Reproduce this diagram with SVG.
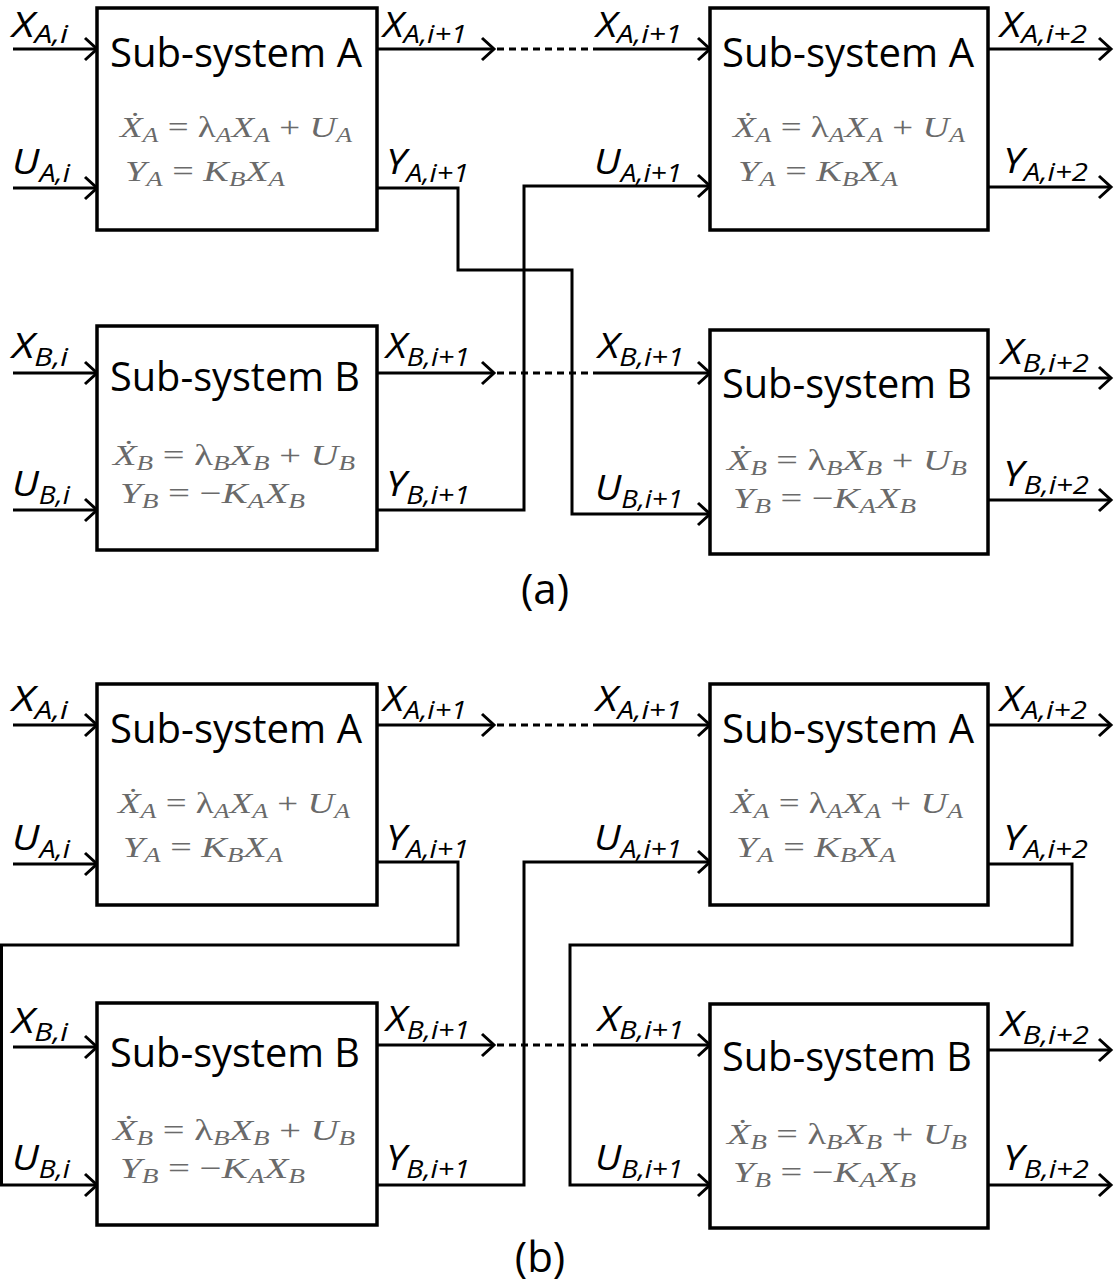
<svg xmlns="http://www.w3.org/2000/svg" width="1116" height="1285" viewBox="0 0 1116 1285">
<style>
.box{fill:#fff;stroke:#000;stroke-width:3.5}
.ln{fill:none;stroke:#000;stroke-width:3}
.dash{fill:none;stroke:#000;stroke-width:3;stroke-dasharray:7 5}
.title{font-family:"Open Sans","Liberation Sans",sans-serif;font-size:40px;fill:#000}
.lab{font-family:"Open Sans","Liberation Sans",sans-serif;font-style:italic;font-size:35px;fill:#000}
.lab.top{font-size:34px}
.sub{font-size:25px}
.eq{font-family:"Liberation Serif","DejaVu Serif",serif;font-style:italic;font-size:30px;fill:#6a6a6a}
.es{font-size:21px}
.up{font-style:normal}
.cap{font-family:"Open Sans","Liberation Sans",sans-serif;font-size:42px;fill:#000}
</style>
<defs>
<marker id="arr" viewBox="-15 -14 18 28" markerWidth="18" markerHeight="28" refX="0" refY="0" orient="auto" markerUnits="userSpaceOnUse">
<path d="M-12,-11 L0,0 L-12,11" fill="none" stroke="#000" stroke-width="3"/>
</marker>
</defs>

<g id="connectors">
<!-- panel (a) -->
<line class="ln" x1="13" y1="49" x2="97" y2="49" marker-end="url(#arr)"/>
<line class="ln" x1="13" y1="188" x2="97" y2="188" marker-end="url(#arr)"/>
<line class="ln" x1="377" y1="49" x2="494" y2="49" marker-end="url(#arr)"/>
<line class="dash" x1="497" y1="49" x2="600" y2="49"/>
<line class="ln" x1="600" y1="49" x2="710" y2="49" marker-end="url(#arr)"/>
<line class="ln" x1="988" y1="49" x2="1111" y2="49" marker-end="url(#arr)"/>
<line class="ln" x1="988" y1="187" x2="1111" y2="187" marker-end="url(#arr)"/>
<polyline class="ln" points="377,188 458,188 458,270 572,270 572,514 710,514" marker-end="url(#arr)"/>
<polyline class="ln" points="377,510 524,510 524,186 710,186" marker-end="url(#arr)"/>
<line class="ln" x1="13" y1="373" x2="97" y2="373" marker-end="url(#arr)"/>
<line class="ln" x1="13" y1="510" x2="97" y2="510" marker-end="url(#arr)"/>
<line class="ln" x1="377" y1="373" x2="494" y2="373" marker-end="url(#arr)"/>
<line class="dash" x1="497" y1="373" x2="600" y2="373"/>
<line class="ln" x1="600" y1="373" x2="710" y2="373" marker-end="url(#arr)"/>
<line class="ln" x1="988" y1="378" x2="1111" y2="378" marker-end="url(#arr)"/>
<line class="ln" x1="988" y1="500" x2="1111" y2="500" marker-end="url(#arr)"/>
<!-- panel (b) -->
<line class="ln" x1="13" y1="725" x2="97" y2="725" marker-end="url(#arr)"/>
<line class="ln" x1="13" y1="864" x2="97" y2="864" marker-end="url(#arr)"/>
<line class="ln" x1="377" y1="725" x2="494" y2="725" marker-end="url(#arr)"/>
<line class="dash" x1="497" y1="725" x2="600" y2="725"/>
<line class="ln" x1="600" y1="725" x2="710" y2="725" marker-end="url(#arr)"/>
<line class="ln" x1="988" y1="725" x2="1111" y2="725" marker-end="url(#arr)"/>
<polyline class="ln" points="377,862 458,862 458,945 1.5,945 1.5,1185 97,1185" marker-end="url(#arr)"/>
<polyline class="ln" points="377,1185 524,1185 524,862 710,862" marker-end="url(#arr)"/>
<polyline class="ln" points="988,864 1072,864 1072,945 570,945 570,1185 710,1185" marker-end="url(#arr)"/>
<line class="ln" x1="13" y1="1047" x2="97" y2="1047" marker-end="url(#arr)"/>
<line class="ln" x1="377" y1="1045" x2="494" y2="1045" marker-end="url(#arr)"/>
<line class="dash" x1="497" y1="1045" x2="600" y2="1045"/>
<line class="ln" x1="600" y1="1045" x2="710" y2="1045" marker-end="url(#arr)"/>
<line class="ln" x1="988" y1="1050" x2="1111" y2="1050" marker-end="url(#arr)"/>
<line class="ln" x1="988" y1="1185" x2="1111" y2="1185" marker-end="url(#arr)"/>
</g>

<!-- panel (a) nodes -->
<g id="a-subA1">
<rect class="box" x="97" y="8" width="280" height="222"/>
<text class="title" x="110" y="67" textLength="252" lengthAdjust="spacingAndGlyphs">Sub-system A</text>
<text class="eq" x="120" y="137" textLength="232" lengthAdjust="spacingAndGlyphs">Ẋ<tspan class="es" dy="5">A</tspan><tspan class="up" dy="-5"> = λ</tspan><tspan class="es" dy="5">A</tspan><tspan dy="-5">X</tspan><tspan class="es" dy="5">A</tspan><tspan class="up" dy="-5"> + </tspan><tspan>U</tspan><tspan class="es" dy="5">A</tspan></text>
<text class="eq" x="125" y="181" textLength="160" lengthAdjust="spacingAndGlyphs">Y<tspan class="es" dy="5">A</tspan><tspan class="up" dy="-5"> = </tspan><tspan>K</tspan><tspan class="es" dy="5">B</tspan><tspan dy="-5">X</tspan><tspan class="es" dy="5">A</tspan></text>
</g>
<g id="a-subA2">
<rect class="box" x="710" y="8" width="278" height="222"/>
<text class="title" x="722" y="67" textLength="252" lengthAdjust="spacingAndGlyphs">Sub-system A</text>
<text class="eq" x="733" y="137" textLength="232" lengthAdjust="spacingAndGlyphs">Ẋ<tspan class="es" dy="5">A</tspan><tspan class="up" dy="-5"> = λ</tspan><tspan class="es" dy="5">A</tspan><tspan dy="-5">X</tspan><tspan class="es" dy="5">A</tspan><tspan class="up" dy="-5"> + </tspan><tspan>U</tspan><tspan class="es" dy="5">A</tspan></text>
<text class="eq" x="738" y="181" textLength="160" lengthAdjust="spacingAndGlyphs">Y<tspan class="es" dy="5">A</tspan><tspan class="up" dy="-5"> = </tspan><tspan>K</tspan><tspan class="es" dy="5">B</tspan><tspan dy="-5">X</tspan><tspan class="es" dy="5">A</tspan></text>
</g>
<g id="a-subB1">
<rect class="box" x="97" y="326" width="280" height="224"/>
<text class="title" x="110" y="391" textLength="250" lengthAdjust="spacingAndGlyphs">Sub-system B</text>
<text class="eq" x="113" y="465" textLength="242" lengthAdjust="spacingAndGlyphs">Ẋ<tspan class="es" dy="5">B</tspan><tspan class="up" dy="-5"> = λ</tspan><tspan class="es" dy="5">B</tspan><tspan dy="-5">X</tspan><tspan class="es" dy="5">B</tspan><tspan class="up" dy="-5"> + </tspan><tspan>U</tspan><tspan class="es" dy="5">B</tspan></text>
<text class="eq" x="120" y="503" textLength="185" lengthAdjust="spacingAndGlyphs">Y<tspan class="es" dy="5">B</tspan><tspan class="up" dy="-5"> = −</tspan><tspan>K</tspan><tspan class="es" dy="5">A</tspan><tspan dy="-5">X</tspan><tspan class="es" dy="5">B</tspan></text>
</g>
<g id="a-subB2">
<rect class="box" x="710" y="330" width="278" height="224"/>
<text class="title" x="722" y="398" textLength="250" lengthAdjust="spacingAndGlyphs">Sub-system B</text>
<text class="eq" x="727" y="470" textLength="240" lengthAdjust="spacingAndGlyphs">Ẋ<tspan class="es" dy="5">B</tspan><tspan class="up" dy="-5"> = λ</tspan><tspan class="es" dy="5">B</tspan><tspan dy="-5">X</tspan><tspan class="es" dy="5">B</tspan><tspan class="up" dy="-5"> + </tspan><tspan>U</tspan><tspan class="es" dy="5">B</tspan></text>
<text class="eq" x="733" y="508" textLength="183" lengthAdjust="spacingAndGlyphs">Y<tspan class="es" dy="5">B</tspan><tspan class="up" dy="-5"> = −</tspan><tspan>K</tspan><tspan class="es" dy="5">A</tspan><tspan dy="-5">X</tspan><tspan class="es" dy="5">B</tspan></text>
</g>

<!-- panel (b) nodes -->
<g id="b-subA1">
<rect class="box" x="97" y="684" width="280" height="221"/>
<text class="title" x="110" y="743" textLength="252" lengthAdjust="spacingAndGlyphs">Sub-system A</text>
<text class="eq" x="118" y="813" textLength="232" lengthAdjust="spacingAndGlyphs">Ẋ<tspan class="es" dy="5">A</tspan><tspan class="up" dy="-5"> = λ</tspan><tspan class="es" dy="5">A</tspan><tspan dy="-5">X</tspan><tspan class="es" dy="5">A</tspan><tspan class="up" dy="-5"> + </tspan><tspan>U</tspan><tspan class="es" dy="5">A</tspan></text>
<text class="eq" x="123" y="857" textLength="160" lengthAdjust="spacingAndGlyphs">Y<tspan class="es" dy="5">A</tspan><tspan class="up" dy="-5"> = </tspan><tspan>K</tspan><tspan class="es" dy="5">B</tspan><tspan dy="-5">X</tspan><tspan class="es" dy="5">A</tspan></text>
</g>
<g id="b-subA2">
<rect class="box" x="710" y="684" width="278" height="221"/>
<text class="title" x="722" y="743" textLength="252" lengthAdjust="spacingAndGlyphs">Sub-system A</text>
<text class="eq" x="731" y="813" textLength="232" lengthAdjust="spacingAndGlyphs">Ẋ<tspan class="es" dy="5">A</tspan><tspan class="up" dy="-5"> = λ</tspan><tspan class="es" dy="5">A</tspan><tspan dy="-5">X</tspan><tspan class="es" dy="5">A</tspan><tspan class="up" dy="-5"> + </tspan><tspan>U</tspan><tspan class="es" dy="5">A</tspan></text>
<text class="eq" x="736" y="857" textLength="160" lengthAdjust="spacingAndGlyphs">Y<tspan class="es" dy="5">A</tspan><tspan class="up" dy="-5"> = </tspan><tspan>K</tspan><tspan class="es" dy="5">B</tspan><tspan dy="-5">X</tspan><tspan class="es" dy="5">A</tspan></text>
</g>
<g id="b-subB1">
<rect class="box" x="97" y="1003" width="280" height="222"/>
<text class="title" x="110" y="1067" textLength="250" lengthAdjust="spacingAndGlyphs">Sub-system B</text>
<text class="eq" x="113" y="1140" textLength="242" lengthAdjust="spacingAndGlyphs">Ẋ<tspan class="es" dy="5">B</tspan><tspan class="up" dy="-5"> = λ</tspan><tspan class="es" dy="5">B</tspan><tspan dy="-5">X</tspan><tspan class="es" dy="5">B</tspan><tspan class="up" dy="-5"> + </tspan><tspan>U</tspan><tspan class="es" dy="5">B</tspan></text>
<text class="eq" x="120" y="1178" textLength="185" lengthAdjust="spacingAndGlyphs">Y<tspan class="es" dy="5">B</tspan><tspan class="up" dy="-5"> = −</tspan><tspan>K</tspan><tspan class="es" dy="5">A</tspan><tspan dy="-5">X</tspan><tspan class="es" dy="5">B</tspan></text>
</g>
<g id="b-subB2">
<rect class="box" x="710" y="1004" width="278" height="224"/>
<text class="title" x="722" y="1071" textLength="250" lengthAdjust="spacingAndGlyphs">Sub-system B</text>
<text class="eq" x="727" y="1144" textLength="240" lengthAdjust="spacingAndGlyphs">Ẋ<tspan class="es" dy="5">B</tspan><tspan class="up" dy="-5"> = λ</tspan><tspan class="es" dy="5">B</tspan><tspan dy="-5">X</tspan><tspan class="es" dy="5">B</tspan><tspan class="up" dy="-5"> + </tspan><tspan>U</tspan><tspan class="es" dy="5">B</tspan></text>
<text class="eq" x="733" y="1182" textLength="183" lengthAdjust="spacingAndGlyphs">Y<tspan class="es" dy="5">B</tspan><tspan class="up" dy="-5"> = −</tspan><tspan>K</tspan><tspan class="es" dy="5">A</tspan><tspan dy="-5">X</tspan><tspan class="es" dy="5">B</tspan></text>
</g>

<!-- signal labels -->
<g id="labels">
<text class="lab top" x="12" y="37" textLength="56" lengthAdjust="spacingAndGlyphs">X<tspan class="sub" dy="6">A,i</tspan></text>
<text class="lab" x="12" y="174" textLength="58" lengthAdjust="spacingAndGlyphs">U<tspan class="sub" dy="8">A,i</tspan></text>
<text class="lab top" x="383" y="37" textLength="84" lengthAdjust="spacingAndGlyphs">X<tspan class="sub" dy="6">A,i+1</tspan></text>
<text class="lab" x="386" y="174" textLength="83" lengthAdjust="spacingAndGlyphs">Y<tspan class="sub" dy="8">A,i+1</tspan></text>
<text class="lab top" x="596" y="37" textLength="86" lengthAdjust="spacingAndGlyphs">X<tspan class="sub" dy="6">A,i+1</tspan></text>
<text class="lab" x="594" y="174" textLength="88" lengthAdjust="spacingAndGlyphs">U<tspan class="sub" dy="8">A,i+1</tspan></text>
<text class="lab top" x="1000" y="37" textLength="87" lengthAdjust="spacingAndGlyphs">X<tspan class="sub" dy="6">A,i+2</tspan></text>
<text class="lab" x="1003" y="173" textLength="85" lengthAdjust="spacingAndGlyphs">Y<tspan class="sub" dy="8">A,i+2</tspan></text>
<text class="lab" x="12" y="358" textLength="56" lengthAdjust="spacingAndGlyphs">X<tspan class="sub" dy="8">B,i</tspan></text>
<text class="lab" x="12" y="496" textLength="58" lengthAdjust="spacingAndGlyphs">U<tspan class="sub" dy="8">B,i</tspan></text>
<text class="lab" x="386" y="358" textLength="84" lengthAdjust="spacingAndGlyphs">X<tspan class="sub" dy="8">B,i+1</tspan></text>
<text class="lab" x="386" y="496" textLength="84" lengthAdjust="spacingAndGlyphs">Y<tspan class="sub" dy="8">B,i+1</tspan></text>
<text class="lab" x="598" y="358" textLength="86" lengthAdjust="spacingAndGlyphs">X<tspan class="sub" dy="8">B,i+1</tspan></text>
<text class="lab" x="595" y="500" textLength="88" lengthAdjust="spacingAndGlyphs">U<tspan class="sub" dy="8">B,i+1</tspan></text>
<text class="lab" x="1001" y="364" textLength="88" lengthAdjust="spacingAndGlyphs">X<tspan class="sub" dy="8">B,i+2</tspan></text>
<text class="lab" x="1003" y="486" textLength="86" lengthAdjust="spacingAndGlyphs">Y<tspan class="sub" dy="8">B,i+2</tspan></text>

<text class="lab" x="12" y="711" textLength="56" lengthAdjust="spacingAndGlyphs">X<tspan class="sub" dy="8">A,i</tspan></text>
<text class="lab" x="12" y="850" textLength="58" lengthAdjust="spacingAndGlyphs">U<tspan class="sub" dy="8">A,i</tspan></text>
<text class="lab" x="383" y="711" textLength="84" lengthAdjust="spacingAndGlyphs">X<tspan class="sub" dy="8">A,i+1</tspan></text>
<text class="lab" x="386" y="850" textLength="83" lengthAdjust="spacingAndGlyphs">Y<tspan class="sub" dy="8">A,i+1</tspan></text>
<text class="lab" x="596" y="711" textLength="86" lengthAdjust="spacingAndGlyphs">X<tspan class="sub" dy="8">A,i+1</tspan></text>
<text class="lab" x="594" y="850" textLength="88" lengthAdjust="spacingAndGlyphs">U<tspan class="sub" dy="8">A,i+1</tspan></text>
<text class="lab" x="1000" y="711" textLength="87" lengthAdjust="spacingAndGlyphs">X<tspan class="sub" dy="8">A,i+2</tspan></text>
<text class="lab" x="1003" y="850" textLength="85" lengthAdjust="spacingAndGlyphs">Y<tspan class="sub" dy="8">A,i+2</tspan></text>
<text class="lab" x="12" y="1033" textLength="56" lengthAdjust="spacingAndGlyphs">X<tspan class="sub" dy="8">B,i</tspan></text>
<text class="lab" x="12" y="1170" textLength="58" lengthAdjust="spacingAndGlyphs">U<tspan class="sub" dy="8">B,i</tspan></text>
<text class="lab" x="386" y="1031" textLength="84" lengthAdjust="spacingAndGlyphs">X<tspan class="sub" dy="8">B,i+1</tspan></text>
<text class="lab" x="386" y="1170" textLength="84" lengthAdjust="spacingAndGlyphs">Y<tspan class="sub" dy="8">B,i+1</tspan></text>
<text class="lab" x="598" y="1031" textLength="86" lengthAdjust="spacingAndGlyphs">X<tspan class="sub" dy="8">B,i+1</tspan></text>
<text class="lab" x="595" y="1170" textLength="88" lengthAdjust="spacingAndGlyphs">U<tspan class="sub" dy="8">B,i+1</tspan></text>
<text class="lab" x="1001" y="1036" textLength="88" lengthAdjust="spacingAndGlyphs">X<tspan class="sub" dy="8">B,i+2</tspan></text>
<text class="lab" x="1003" y="1170" textLength="86" lengthAdjust="spacingAndGlyphs">Y<tspan class="sub" dy="8">B,i+2</tspan></text>
</g>

<text class="cap" x="545" y="604" text-anchor="middle">(a)</text>
<text class="cap" x="540" y="1272" text-anchor="middle">(b)</text>
</svg>
